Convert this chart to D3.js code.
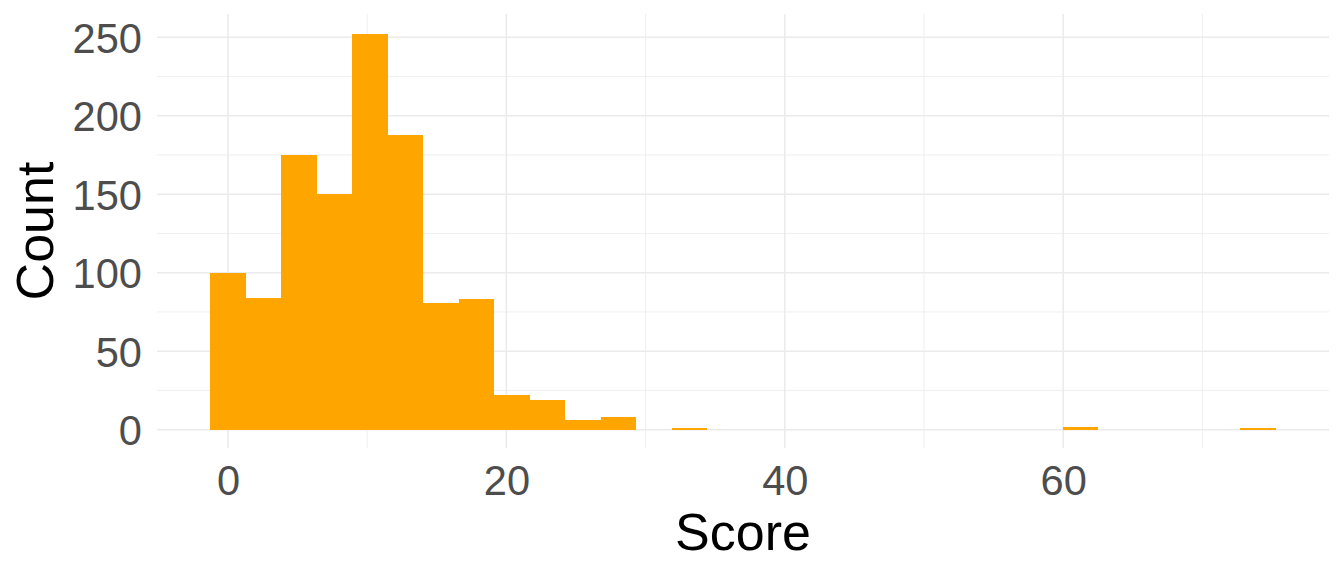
<!DOCTYPE html>
<html>
<head>
<meta charset="utf-8">
<script src="https://cdn.jsdelivr.net/npm/d3@7"></script>
<style>
  html, body { margin: 0; padding: 0; background: #fff; }
  svg { display: block; }
</style>
</head>
<body>
<svg id="chart" width="1344" height="576"></svg>
<script>
// ---- data ----
const binWidth = 2.552;
const binCenters = [0, 2.55, 5.10, 7.66, 10.21, 12.76, 15.31, 17.86, 20.41, 22.97,
                    25.52, 28.07, 30.62, 33.17, 35.72, 38.28, 40.83, 43.38, 45.93, 48.48,
                    51.03, 53.59, 56.14, 58.69, 61.24, 63.79, 66.34, 68.90, 71.45, 74.00];
const counts = [100, 84, 175, 150, 252, 188, 81, 83, 22, 19,
                6, 8, 0, 1, 0, 0, 0, 0, 0, 0,
                0, 0, 0, 0, 2, 0, 0, 0, 0, 1];
const xTicks = [0, 20, 40, 60];
const xMinor = [10, 30, 50, 70];
const yTicks = [0, 50, 100, 150, 200, 250];
const yMinor = [25, 75, 125, 175, 225];
const xTitle = "Score";
const yTitle = "Count";

// ---- layout ----
const panel = { left: 157, right: 1329, top: 14, bottom: 448 };
const svg = d3.select("#chart");

const x = d3.scaleLinear().domain([-5.1, 79.1]).range([panel.left, panel.right]);
const y = d3.scaleLinear().domain([0, 250]).range([429.7, 37.2]);

const grid = svg.append("g");
// minor grid
grid.selectAll(".xminor").data(xMinor).enter().append("line")
  .attr("x1", d => x(d)).attr("x2", d => x(d))
  .attr("y1", panel.top).attr("y2", panel.bottom)
  .attr("stroke", "#ebebeb").attr("stroke-width", 0.8);
grid.selectAll(".yminor").data(yMinor).enter().append("line")
  .attr("y1", d => y(d)).attr("y2", d => y(d))
  .attr("x1", panel.left).attr("x2", panel.right)
  .attr("stroke", "#ebebeb").attr("stroke-width", 0.8);
// major grid
grid.selectAll(".xmajor").data(xTicks).enter().append("line")
  .attr("x1", d => x(d)).attr("x2", d => x(d))
  .attr("y1", panel.top).attr("y2", panel.bottom)
  .attr("stroke", "#ebebeb").attr("stroke-width", 1.6);
grid.selectAll(".ymajor").data(yTicks).enter().append("line")
  .attr("y1", d => y(d)).attr("y2", d => y(d))
  .attr("x1", panel.left).attr("x2", panel.right)
  .attr("stroke", "#ebebeb").attr("stroke-width", 1.6);

// bars
const bins = binCenters.map((c, i) => ({ c, n: counts[i] })).filter(d => d.n > 0);
svg.append("g").selectAll("rect").data(bins).enter().append("rect")
  .attr("x", d => x(d.c - binWidth / 2))
  .attr("width", d => x(d.c + binWidth / 2) - x(d.c - binWidth / 2))
  .attr("y", d => y(d.n))
  .attr("height", d => y(0) - y(d.n))
  .attr("fill", "#FFA500")
  .attr("shape-rendering", "crispEdges");

// axes (text only, like theme_minimal)
const font = "'Liberation Sans', Arial, sans-serif";
const xAxis = d3.axisBottom(x).tickValues(xTicks).tickSize(0).tickPadding(0);
const gx = svg.append("g").attr("transform", `translate(0, 495)`).call(xAxis);
gx.select(".domain").remove();
gx.selectAll("text")
  .attr("dy", 0).attr("y", 0)
  .attr("font-family", font).attr("font-size", 41.6).attr("fill", "#4d4d4d");

const yAxis = d3.axisLeft(y).tickValues(yTicks).tickSize(0).tickPadding(0);
const gy = svg.append("g").attr("transform", `translate(142, 0)`).call(yAxis);
gy.select(".domain").remove();
gy.selectAll("text")
  .attr("x", 0).attr("dy", "0.36em")
  .attr("font-family", font).attr("font-size", 41.6).attr("fill", "#4d4d4d");

// titles
svg.append("text")
  .attr("x", (panel.left + panel.right) / 2).attr("y", 550)
  .attr("text-anchor", "middle")
  .attr("font-family", font).attr("font-size", 52).attr("fill", "#000")
  .text(xTitle);
svg.append("text")
  .attr("transform", `translate(52.5, ${(panel.top + panel.bottom) / 2}) rotate(-90)`)
  .attr("text-anchor", "middle")
  .attr("font-family", font).attr("font-size", 52).attr("fill", "#000")
  .text(yTitle);
</script>
</body>
</html>
